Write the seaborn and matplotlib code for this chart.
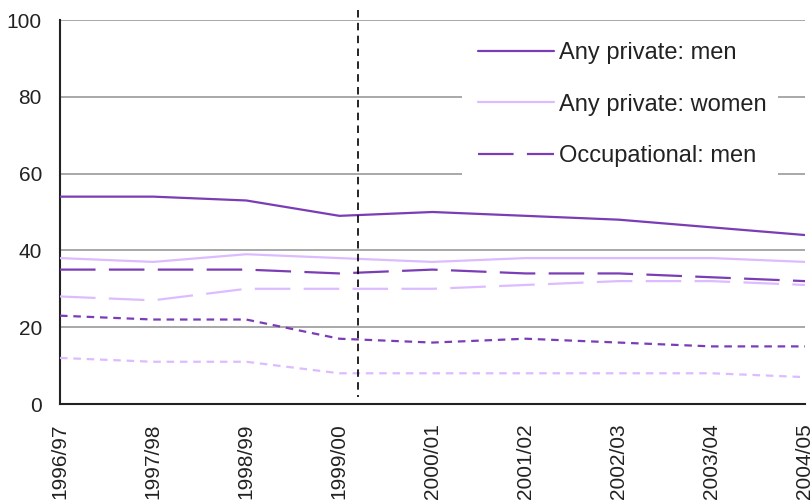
import matplotlib
matplotlib.use("Agg")
import matplotlib.pyplot as plt
import seaborn as sns
import pandas as pd
from matplotlib.patches import Rectangle
from matplotlib.lines import Line2D

# Financial years
years = ["1996/97", "1997/98", "1998/99", "1999/00", "2000/01",
         "2001/02", "2002/03", "2003/04", "2004/05"]

# Percentage with pension provision, by type and sex
any_private_men = [54, 54, 53, 49, 50, 49, 48, 46, 44]
any_private_women = [38, 37, 39, 38, 37, 38, 38, 38, 37]
occupational_men = [35, 35, 35, 34, 35, 34, 34, 33, 32]
occupational_women = [28, 27, 30, 30, 30, 31, 32, 32, 31]
personal_men = [23, 22, 22, 17, 16, 17, 16, 15, 15]
personal_women = [12, 11, 11, 8, 8, 8, 8, 8, 7]

series_names = ["Any private: men", "Any private: women",
                "Occupational: men", "Occupational: women",
                "Personal: men", "Personal: women"]
series_values = [any_private_men, any_private_women, occupational_men,
                 occupational_women, personal_men, personal_women]

# Series break between 1999/00 and 2000/01
break_pos = 3.2

rows = []
for name, vals in zip(series_names, series_values):
    for i, v in enumerate(vals):
        rows.append({"pos": i, "value": v, "series": name})
df = pd.DataFrame(rows)

dark = "#7b3db5"
light = "#dcbcff"
palette = {
    "Any private: men": dark, "Any private: women": light,
    "Occupational: men": dark, "Occupational: women": light,
    "Personal: men": dark, "Personal: women": light,
}
dashes = {
    "Any private: men": "", "Any private: women": "",
    "Occupational: men": (16, 6), "Occupational: women": (16, 6),
    "Personal: men": (3.4, 2.6), "Personal: women": (3.4, 2.6),
}

sns.set_style("white")
plt.rcParams["font.family"] = ["Liberation Sans", "DejaVu Sans"]

fig = plt.figure(figsize=(8.12, 5.0), dpi=100)
ax = fig.add_axes([60 / 812, 1 - 404 / 500, 745 / 812, 384 / 500])

sns.lineplot(data=df, x="pos", y="value", hue="series", style="series",
             palette=palette, dashes=dashes, linewidth=1.6,
             legend=False, ax=ax, zorder=3)

ax.set_xlim(0, len(years) - 1)
ax.set_ylim(0, 100)
ax.set_xticks(range(len(years)))
ax.set_xticklabels(years, rotation=90)
ax.set_yticks([0, 20, 40, 60, 80, 100])
ax.set_xlabel("")
ax.set_ylabel("")

ax.yaxis.grid(True, color="#a8a8a8", linewidth=1.4)
ax.set_axisbelow(True)
for side in ["top", "right"]:
    ax.spines[side].set_visible(False)
for side in ["left", "bottom"]:
    ax.spines[side].set_color("#222222")
    ax.spines[side].set_linewidth(1.5)

ax.tick_params(axis="both", which="major", direction="out", length=5,
               width=1.3, color="#222222", labelsize=15, labelcolor="#222222")
ax.tick_params(axis="y", pad=8)
ax.tick_params(axis="x", pad=9)
for lab in ax.get_xticklabels():
    lab.set_verticalalignment("top")

# Vertical marker at the series break
ax.plot([break_pos, break_pos], [102.5, 1.8], color="black", linewidth=1.2,
        linestyle=(0, (4.5, 3.2)), clip_on=False, zorder=4)

# White legend panel
fig.patches.append(Rectangle((462 / 812, 1 - 200 / 500), 316 / 812, 176 / 500,
                             transform=fig.transFigure, facecolor="white",
                             edgecolor="none", zorder=2))
handles = [
    Line2D([], [], color=dark, linewidth=1.6),
    Line2D([], [], color=light, linewidth=1.6),
    Line2D([], [], color=dark, linewidth=1.6, dashes=(16, 6)),
]
leg = fig.legend(handles, series_names[:3], loc="upper left",
                 bbox_to_anchor=(478 / 812, 1 - 42 / 500),
                 frameon=False, fontsize=17, handlelength=3.2,
                 handletextpad=0.25, labelspacing=1.25, borderaxespad=0,
                 borderpad=0)
for t in leg.get_texts():
    t.set_color("#222222")

fig.savefig("out.png", dpi=100)
